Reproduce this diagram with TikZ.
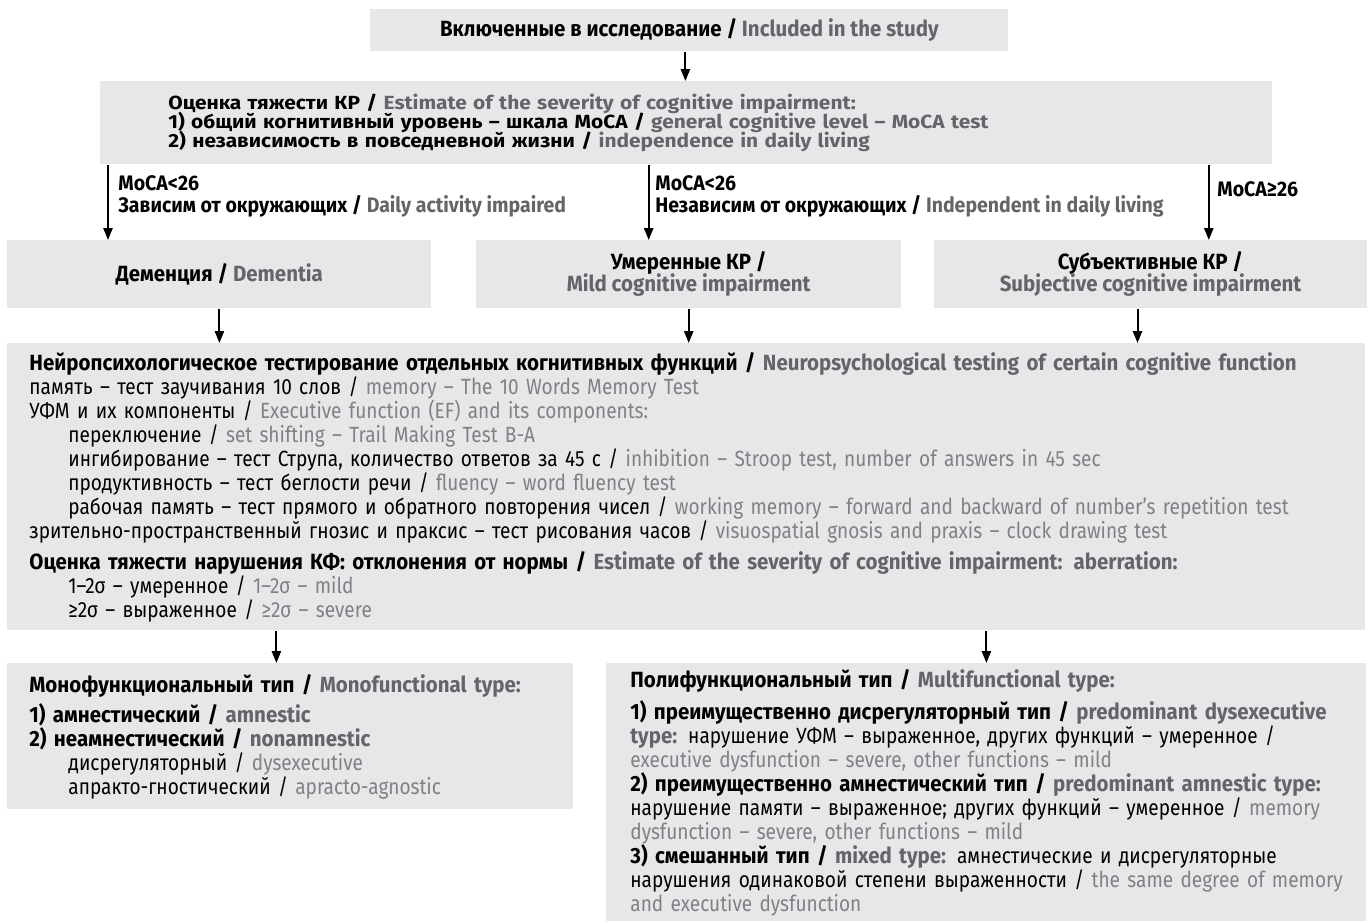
\documentclass[tikz,border=0pt]{standalone}
\usepackage{fontspec}
\setmainfont{Fira Sans}[FakeStretch=0.866, BoldFeatures={FakeStretch=0.93}]
\newfontfamily\estfont{Fira Sans}[FakeStretch=1.1]
\usepackage{xcolor}
\usepackage{tikz}
\usetikzlibrary{shapes, arrows.meta, positioning}

\definecolor{boxgray}{HTML}{E6E7E8}
\definecolor{engbold}{HTML}{646568}
\definecolor{englight}{HTML}{7F8184}

\newcommand{\enb}[1]{\textcolor{engbold}{\bfseries #1}}
\newcommand{\engl}[1]{\textcolor{englight}{#1}}
\newcommand{\indt}{\hspace*{19.5pt}}
\newcommand{\tightlines}{\lineskiplimit -20pt\relax}

\tikzset{
  box/.style={fill=boxgray, inner xsep=0pt, inner ysep=0pt, font={\fontsize{11}{12}\selectfont\tightlines}},
  lbl/.style={inner sep=0pt, align=left, font={\fontsize{10.5}{11}\selectfont\tightlines\bfseries}},
  arr/.style={-{Triangle[length=6pt,width=4.6pt]}, line width=1pt}
}

\begin{document}
\begin{tikzpicture}[x=0.5pt, y=-0.5pt]
\useasboundingbox (0,0) rectangle (1371,922);

\node[box, anchor=north west, minimum width=319pt, minimum height=21pt, font={\fontsize{11}{12}\selectfont\bfseries}] (incl) at (370,9)
  {Включенные в исследование / \enb{Included in the study}};

\node[box, anchor=north west, text width=518pt, inner xsep=34pt, minimum height=41.5pt, align=left, font={\estfont\fontsize{9.5}{9.4}\selectfont\tightlines\bfseries}] (est) at (100,81)
  {Оценка тяжести КР / \enb{Estimate of the severity of cognitive impairment:}\\
   1) общий когнитивный уровень – шкала MoCA / \enb{general cognitive level – MoCA test}\\
   2) независимость в повседневной жизни / \enb{independence in daily living}};

\node[box, anchor=north west, minimum width=212pt, minimum height=34pt, align=center, font={\fontsize{11}{11}\selectfont\tightlines\bfseries}] (dem) at (7,240)
  {Деменция / \enb{Dementia}};
\node[box, minimum width=212.5pt, minimum height=34pt, align=center, font={\fontsize{11}{11}\selectfont\tightlines\bfseries}, right=22pt of dem] (mci)
  {Умеренные КР /\\ \enb{Mild cognitive impairment}};
\node[box, minimum width=216.5pt, minimum height=34pt, align=center, font={\fontsize{11}{11}\selectfont\tightlines\bfseries}, right=16pt of mci] (sci)
  {Субъективные КР /\\ \enb{Subjective cognitive impairment}};

\node[box, anchor=north west, text width=657pt, inner xsep=11pt, minimum height=143.5pt, align=left] (neuro) at (7,343)
  {\textbf{Нейропсихологическое тестирование отдельных когнитивных функций / \enb{Neuropsychological testing of certain cognitive function}}\\
   память – тест заучивания 10 слов / \engl{memory – The 10 Words Memory Test}\\
   УФМ и их компоненты / \engl{Executive function (EF) and its components:}\\
   \indt переключение / \engl{set shifting – Trail Making Test B-A}\\
   \indt ингибирование – тест Струпа, количество ответов за 45 с / \engl{inhibition – Stroop test, number of answers in 45 sec}\\
   \indt продуктивность – тест беглости речи / \engl{fluency – word fluency test}\\
   \indt рабочая память – тест прямого и обратного повторения чисел / \engl{working memory – forward and backward of number’s repetition test}\\
   зрительно-пространственный гнозис и праксис – тест рисования часов / \engl{visuospatial gnosis and praxis – clock drawing test}\\[3.5pt]
   \textbf{Оценка тяжести нарушения КФ: отклонения от нормы / \enb{Estimate of the severity of cognitive impairment: aberration:}}\\
   \indt 1–2σ – умеренное / \engl{1–2σ – mild}\\
   \indt ≥2σ – выраженное / \engl{≥2σ – severe}};

\node[box, anchor=north west, text width=261pt, inner xsep=11pt, minimum height=73pt, align=left] (mono) at (7,663)
  {\textbf{Монофункциональный тип / \enb{Monofunctional type:}}\\[3pt]
   \textbf{1) амнестический / \enb{amnestic}}\\
   \textbf{2) неамнестический / \enb{nonamnestic}}\\
   \indt дисрегуляторный / \engl{dysexecutive}\\
   \indt апракто-гностический / \engl{apracto-agnostic}};

\node[box, anchor=north west, text width=356pt, inner xsep=12pt, minimum height=129pt, align=left] (poly) at (606,663)
  {\textbf{Полифункциональный тип / \enb{Multifunctional type:}}\\[4pt]
   \textbf{1) преимущественно дисрегуляторный тип / \enb{predominant dysexecutive}}\\
   \enb{type:} нарушение УФМ – выраженное, других функций – умеренное /\\
   \engl{executive dysfunction – severe, other functions – mild}\\
   \textbf{2) преимущественно амнестический тип / \enb{predominant amnestic type:}}\\
   \mbox{нарушение памяти – выраженное; других функций – умеренное / \engl{memory}}\\
   \engl{dysfunction – severe, other functions – mild}\\
   \textbf{3) смешанный тип / \enb{mixed type:}} амнестические и дисрегуляторные\\
   \mbox{нарушения одинаковой степени выраженности / \engl{the same degree of memory}}\\
   \engl{and executive dysfunction}};

\node[lbl, anchor=west] (lblDem) at (118,196) {MoCA<26\\ Зависим от окружающих / \enb{Daily activity impaired}};
\node[lbl, anchor=west] (lblMci) at (655,196) {MoCA<26\\ Независим от окружающих / \enb{Independent in daily living}};
\node[lbl, anchor=west] (lblSci) at (1217,189) {MoCA≥26};

\draw[arr] ([xshift=-2pt]incl.south) -- ([xshift=-2pt]incl.south |- est.north);
\draw[arr] ([xshift=4pt]est.south west) -- ([xshift=4pt]est.south west |- dem.north);
\draw[arr] ([xshift=-20pt]mci.north |- est.south) -- ([xshift=-20pt]mci.north);
\draw[arr] ([xshift=-32pt]est.south east) -- ([xshift=-32pt]est.south east |- sci.north);
\draw[arr] (dem.south) -- (dem.south |- neuro.north);
\draw[arr] (mci.south) -- (mci.south |- neuro.north);
\draw[arr] ([xshift=-6.5pt]sci.south) -- ([xshift=-6.5pt]sci.south |- neuro.north);
\draw[arr] ([xshift=-7pt]mono.north |- neuro.south) -- ([xshift=-7pt]mono.north);
\draw[arr] (poly.north |- neuro.south) -- (poly.north);
\end{tikzpicture}
\end{document}
